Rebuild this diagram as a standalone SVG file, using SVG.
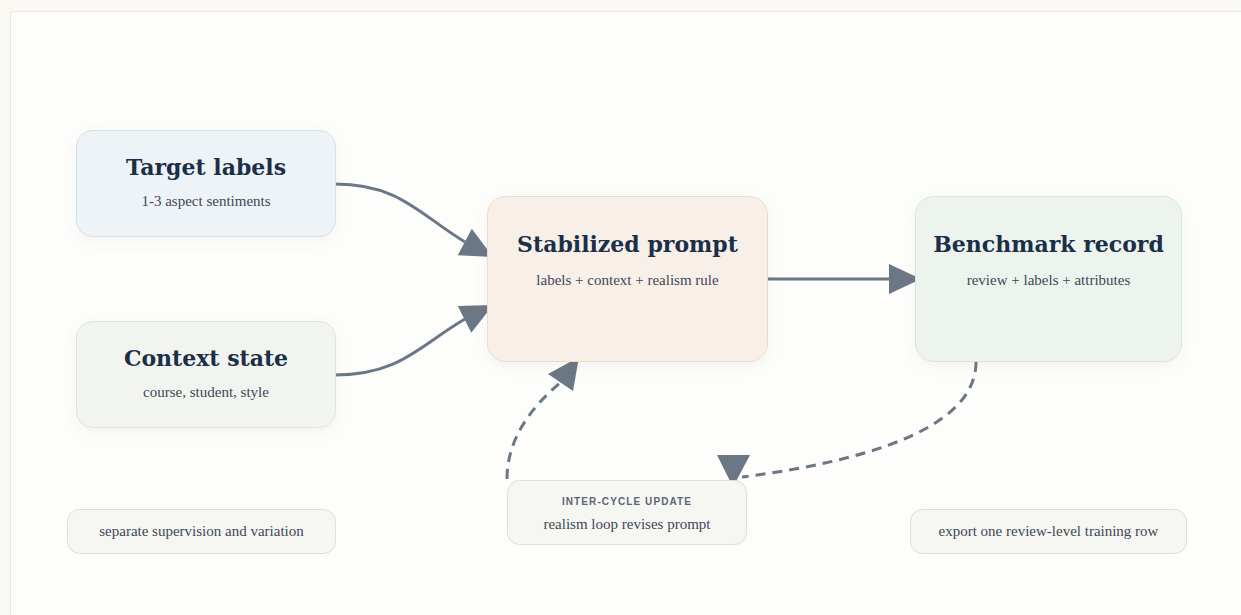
<svg xmlns="http://www.w3.org/2000/svg" width="1241" height="615" viewBox="0 0 1241 615">
<style>
.title{font-family:"DejaVu Serif","Liberation Serif",serif;font-weight:bold;font-size:22px;fill:#1b2f48;text-anchor:middle}
.sub{font-family:"Liberation Serif",serif;font-size:15px;fill:#3d4856;text-anchor:middle}
.cap{font-family:"Liberation Sans",Arial,sans-serif;font-weight:bold;font-size:10px;letter-spacing:1.1px;fill:#5b6672;text-anchor:middle}
.edge{fill:none;stroke:#6b7785;stroke-width:3;stroke-linecap:butt}
.dash{stroke-dasharray:10 7}
.head{fill:#6b7785}
.note{fill:#f6f6f2;stroke:#e4ddd2;stroke-width:1}
</style>
<defs>
<filter id="sh" x="-20%" y="-20%" width="140%" height="150%">
<feDropShadow dx="0" dy="4" stdDeviation="6" flood-color="#8a7a60" flood-opacity="0.08"/>
</filter>
</defs>
<rect x="0" y="0" width="1241" height="615" fill="#faf8f2"/>
<rect x="10.5" y="11.5" width="1260" height="640" rx="3" fill="#fdfdfc" stroke="#ece6dc" stroke-width="1"/>

<g id="connectors">
<path class="edge" d="M335 184 C400 184 420 215 465 242"/>
<polygon class="head" points="493,257 457.8,255.2 471.8,228.8"/>
<path class="edge" d="M335 375 C400 375 420 345 465 319"/>
<polygon class="head" points="493,305 471.3,332.8 457.8,306"/>
<path class="edge" d="M768 279 L890 279"/>
<polygon class="head" points="921,279 889,264 889,294"/>
<path class="edge dash" d="M976 362 C976 430 860 462 742 477"/>
<polygon class="head" points="733,487 717,455 750,455"/>
<path class="edge dash" d="M507 479 C507 440 530 408 561 382"/>
<polygon class="head" points="579,357 548,374 573,391"/>
</g>

<g id="target-labels">
<rect x="76.5" y="130.5" width="259" height="106" rx="16" fill="#eef3f8" stroke="#d5e0ea" filter="url(#sh)"/>
<text class="title" x="206" y="175">Target labels</text>
<text class="sub" x="206" y="206">1-3 aspect sentiments</text>
</g>

<g id="context-state">
<rect x="76.5" y="321.5" width="259" height="106" rx="16" fill="#f2f5ef" stroke="#dde5d8" filter="url(#sh)"/>
<text class="title" x="206" y="366">Context state</text>
<text class="sub" x="206" y="397">course, student, style</text>
</g>

<g id="stabilized-prompt">
<rect x="487.5" y="196.5" width="280" height="165" rx="18" fill="#f8f0e8" stroke="#ecdcca" filter="url(#sh)"/>
<text class="title" x="627.5" y="252">Stabilized prompt</text>
<text class="sub" x="627.5" y="285">labels + context + realism rule</text>
</g>

<g id="benchmark-record">
<rect x="915.5" y="196.5" width="266" height="165" rx="18" fill="#edf4ee" stroke="#d7e6d9" filter="url(#sh)"/>
<text class="title" x="1048.5" y="252">Benchmark record</text>
<text class="sub" x="1048.5" y="285">review + labels + attributes</text>
</g>

<g id="inter-cycle-update">
<rect class="note" x="507.5" y="480.5" width="239" height="64" rx="12"/>
<text class="cap" x="627" y="505">INTER-CYCLE UPDATE</text>
<text class="sub" x="627" y="529">realism loop revises prompt</text>
</g>

<g id="separate-note">
<rect class="note" x="67.5" y="509.5" width="268" height="44" rx="12"/>
<text class="sub" x="201.5" y="536">separate supervision and variation</text>
</g>

<g id="export-note">
<rect class="note" x="910.5" y="509.5" width="276" height="44" rx="12"/>
<text class="sub" x="1048.5" y="536">export one review-level training row</text>
</g>
</svg>
